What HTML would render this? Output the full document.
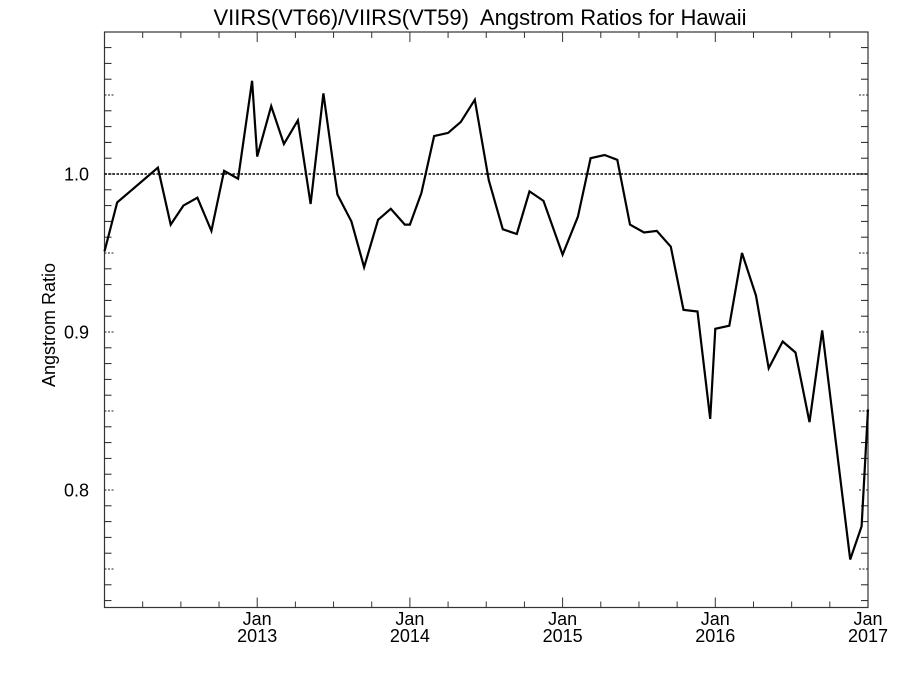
<!DOCTYPE html>
<html><head><meta charset="utf-8"><style>
body{margin:0;background:#fff}
svg{display:block;font-family:"Liberation Sans",sans-serif}
</style></head><body>
<svg id="chart" width="900" height="675">
<text x="480" y="25" text-anchor="middle" font-size="22" style="white-space:pre">VIIRS(VT66)/VIIRS(VT59)  Angstrom Ratios for Hawaii</text>
<text transform="translate(55,325) rotate(-90)" text-anchor="middle" font-size="18">Angstrom Ratio</text>
<g id="axes"></g>
<g id="series"></g>
</svg>
<script>
// months since Jan 2012
const months=[0,1,4.2,5.2,6.2,7.3,8.4,9.4,10.5,11.6,12.0,13.1,14.1,15.2,16.2,17.2,18.3,19.4,20.4,21.5,22.5,23.6,24.0,24.9,25.9,27.0,28.0,29.1,30.2,31.3,32.4,33.4,34.5,36.0,37.2,38.2,39.3,40.3,41.3,42.4,43.4,44.5,45.5,46.6,47.6,48.0,49.1,50.1,51.2,52.2,53.3,54.3,55.4,56.4,58.6,59.5,60.0];
const ratios=[0.951,0.982,1.004,0.968,0.980,0.985,0.964,1.002,0.997,1.059,1.011,1.043,1.019,1.034,0.981,1.051,0.987,0.970,0.941,0.971,0.978,0.968,0.968,0.988,1.024,1.026,1.033,1.047,0.996,0.965,0.962,0.989,0.983,0.949,0.973,1.010,1.012,1.009,0.968,0.963,0.964,0.954,0.914,0.913,0.845,0.902,0.904,0.950,0.923,0.877,0.894,0.887,0.843,0.901,0.756,0.777,0.851];
const yLabels=["0.8","0.9","1.0"];
const xYears=["2013","2014","2015","2016","2017"];
const refLine=1.0;
const L=104.5,R=868,T=32,B=607.5;
const X=m=>L+(R-L)*m/60;
const Y=v=>174-(v-1.0)*1580;
const NS="http://www.w3.org/2000/svg";
const ax=document.getElementById('axes'),se=document.getElementById('series');
function mk(p,tag,at){const e=document.createElementNS(NS,tag);for(const k in at)e.setAttribute(k,at[k]);p.appendChild(e);return e;}
let fr=mk(ax,'rect',{x:L,y:T,width:R-L,height:B-T,fill:'none',stroke:'#333','stroke-width':1.2});


for(let i=73;i<=108;i++){const v=i/100,y=Y(v);if(y<T||y>B)continue;
 const major=i%5===0;const len=major?9:7;
 const dash=major?'2,1.5':'none';
 let t1=mk(ax,'line',{x1:L,x2:L+len,y1:y,y2:y,stroke:'#222','stroke-width':1,'stroke-dasharray':dash});
 
 
 let t2=mk(ax,'line',{x1:R,x2:R-len,y1:y,y2:y,stroke:'#222','stroke-width':1,'stroke-dasharray':dash});
 
 
}
yLabels.forEach(s=>{let t=mk(ax,'text',{x:89,y:Y(parseFloat(s))+6.5,'text-anchor':'end','font-size':18});t.textContent=s;
 
 });
for(let m=0;m<=60;m+=3){const x=X(m),major=m%12===0,len=major?10:6;
 let a=mk(ax,'line',{x1:x,x2:x,y1:B,y2:B-len,stroke:'#333','stroke-width':1});
 
 
 let b=mk(ax,'line',{x1:x,x2:x,y1:T,y2:T+len,stroke:'#333','stroke-width':1});
 
 
}
xYears.forEach((yr,i)=>{const x=X(12*(i+1));
 let a=mk(ax,'text',{x:x,y:625,'text-anchor':'middle','font-size':18});a.textContent='Jan';
 
 
 let b=mk(ax,'text',{x:x,y:642,'text-anchor':'middle','font-size':18});b.textContent=yr;
 
 });
let ref=mk(se,'line',{x1:L,x2:R,y1:Y(refLine),y2:Y(refLine),stroke:'#000','stroke-width':1.6,'stroke-dasharray':'2.5,1.5'});


let pl=mk(se,'polyline',{points:months.map((m,i)=>X(m).toFixed(1)+','+Y(ratios[i]).toFixed(1)).join(' '),fill:'none',stroke:'#000','stroke-width':2.2,'stroke-linejoin':'miter'});


</script>
</body></html>
